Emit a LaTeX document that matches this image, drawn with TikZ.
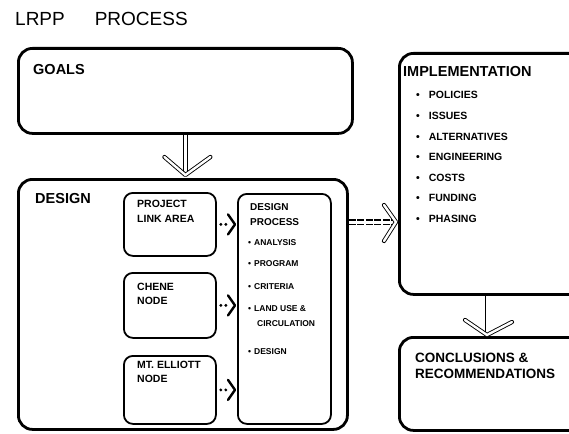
\documentclass[tikz,border=0pt]{standalone}
\usepackage{fontspec}
\setmainfont{Liberation Sans}
\usetikzlibrary{calc}
\begin{document}
\begin{tikzpicture}[x=1pt,y=-1pt,
  bigbox/.style={draw, line width=2.8pt, rounded corners=14pt, inner sep=0pt, anchor=north west},
  smallbox/.style={draw, line width=1.8pt, rounded corners=9pt, inner sep=0pt, anchor=north west},
  headtxt/.style={inner sep=0pt, anchor=base west, font=\fontsize{14.5}{14.5}\selectfont\bfseries},
  midtxt/.style={inner sep=0pt, anchor=base west, font=\fontsize{10.5}{10.5}\selectfont\bfseries},
  itemtxt/.style={inner sep=0pt, anchor=base west, font=\fontsize{10.5}{10.5}\selectfont\bfseries},
  smalltxt/.style={inner sep=0pt, anchor=base west, font=\fontsize{8.5}{8.5}\selectfont\bfseries},
  shaft/.style={double, double distance=3pt, line width=0.9pt},
  chev/.style={double, double distance=2.4pt, line width=0.9pt, line cap=round, line join=round},
  solidchev/.style={line width=2.4pt, line cap=round, line join=round}]
\useasboundingbox (0,0) rectangle (569,433);

% title
\node[headtxt, font=\fontsize{19}{19}\selectfont] (title) at (15,26) {LRPP\hspace{30pt}PROCESS};

% goals
\node[bigbox, minimum width=334pt, minimum height=85pt] (goals) at (17,47) {};
\node[headtxt] (goalst) at (33,75) {GOALS};

% design
\node[bigbox, minimum width=329pt, minimum height=250pt] (design) at (17,178) {};
\node[headtxt] (designt) at (35,203) {DESIGN};

\node[smallbox, minimum width=92pt, minimum height=63pt] (pla) at (123,192) {};
\node[midtxt] (plat1) at (137,207) {PROJECT};
\node[midtxt] (plat2) at (137,222) {LINK AREA};

\node[smallbox, minimum width=92pt, minimum height=65pt] (chene) at (123,272) {};
\node[midtxt] (chenet1) at (137,290) {CHENE};
\node[midtxt] (chenet2) at (137,304) {NODE};

\node[smallbox, minimum width=92pt, minimum height=68pt] (mte) at (123,355) {};
\node[midtxt] (mtet1) at (137,368) {MT. ELLIOTT};
\node[midtxt] (mtet2) at (137,382) {NODE};

\node[smallbox, minimum width=93pt, minimum height=230pt] (dp) at (237,193) {};
\node[midtxt, font=\fontsize{10}{10}\selectfont\bfseries] (dpt1) at (250,210) {DESIGN};
\node[midtxt, font=\fontsize{10}{10}\selectfont\bfseries] (dpt2) at (250,225) {PROCESS};
\node[smalltxt] (dpi1) at (248,245) {\textbullet\hspace{3pt}ANALYSIS};
\node[smalltxt] (dpi2) at (248,266) {\textbullet\hspace{3pt}PROGRAM};
\node[smalltxt] (dpi3) at (248,289) {\textbullet\hspace{3pt}CRITERIA};
\node[smalltxt] (dpi4) at (248,311) {\textbullet\hspace{3pt}LAND USE \&};
\node[smalltxt] (dpi5) at (257,326) {CIRCULATION};
\node[smalltxt] (dpi6) at (248,354) {\textbullet\hspace{3pt}DESIGN};

% implementation
\node[bigbox, minimum width=200pt, minimum height=241pt] (impl) at (398,52) {};
\node[headtxt] (implt) at (403,77) {IMPLEMENTATION};
\foreach \t [count=\i from 0] in {POLICIES,ISSUES,ALTERNATIVES,ENGINEERING,COSTS,FUNDING,PHASING}
  \node[itemtxt] (impi\i) at (416,99+20.5*\i) {\textbullet\hspace{9pt}\t};

% conclusions
\node[bigbox, minimum width=200pt, minimum height=93pt] (conc) at (398,336) {};
\node[headtxt, font=\fontsize{13.5}{13.5}\selectfont\bfseries] (conct1) at (415,362) {CONCLUSIONS \&};
\node[headtxt, font=\fontsize{13.5}{13.5}\selectfont\bfseries] (conct2) at (415,378) {RECOMMENDATIONS};

% goals -> design
\coordinate (t1) at ($(goals.south |- design.north)+(0,-3)$);
\draw[shaft] (goals.south) -- (t1);
\draw[chev] ($(t1)+(-21,-18)$) -- (t1) -- ($(t1)+(25,-18)$);

% design -> implementation
\coordinate (s2) at ($(design.north east)+(0,44)$);
\coordinate (t2) at ($(impl.west |- s2)+(-2,0)$);
\draw[shaft, line width=1.1pt, dash pattern=on 7pt off 1.5pt] (s2) -- (t2);
\draw[chev] ($(t2)+(-12,-17)$) -- (t2) -- ($(t2)+(-12,19)$);

% implementation -> conclusions
\coordinate (s3) at ($(impl.south west)+(89,0)$);
\coordinate (t3) at ($(s3 |- conc.north)+(0,-1)$);
\draw[shaft] (s3) -- (t3);
\draw[chev] ($(t3)+(-22,-15)$) -- (t3) -- ($(t3)+(25,-13)$);

% dotted connectors into design process
\foreach \b in {pla,chene,mte} {
  \coordinate (tip\b) at ($(dp.west |- \b.east)+(-2,0)$);
  \fill ($(\b.east)+(4,0)$) circle (1.6pt);
  \fill ($(\b.east)+(9,0)$) circle (1.6pt);
  \draw[solidchev] ($(tip\b)+(-7,-10)$) -- (tip\b) -- ($(tip\b)+(-7,10)$);
}
\end{tikzpicture}
\end{document}
